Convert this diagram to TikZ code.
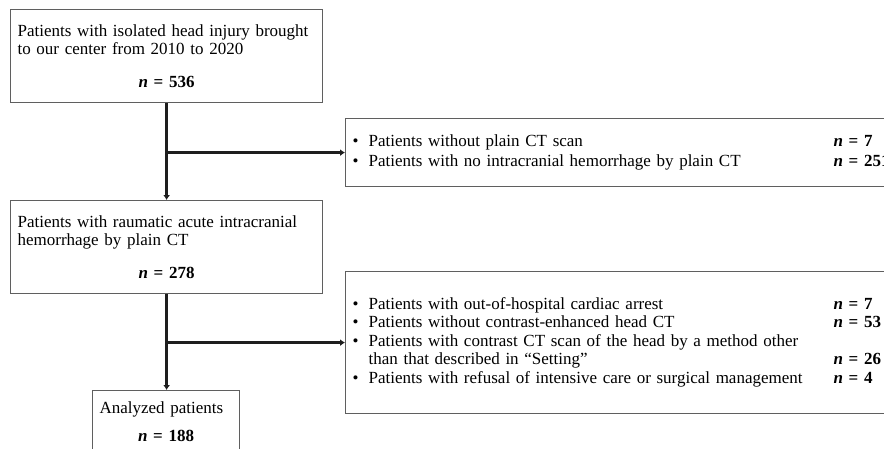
\documentclass[tikz,border=0pt]{standalone}
\usepackage{fontspec}
\setmainfont{Liberation Serif}
\usepackage{tikz}
\usetikzlibrary{arrows.meta}
\usetikzlibrary{calc}
\definecolor{boxgray}{RGB}{95,95,95}
\definecolor{linegray}{RGB}{30,30,30}
\newcommand{\nval}[1]{\textbf{\textit{n}~=~#1}}
\newcommand{\bul}{\makebox[16pt][l]{\textbullet}}

\begin{document}
\begin{tikzpicture}[
    x=1pt, y=-1pt,
    box/.style={draw=boxgray, line width=1.2pt, rectangle, anchor=north west,
        inner xsep=7pt, inner ysep=0pt, align=left,
        font=\fontsize{17}{18.5}\selectfont},
    flow line/.style={line width=3pt, draw=linegray},
    flow arrow/.style={flow line, -{Latex[length=5pt,width=7pt]}}
    ]

    % frame
    \useasboundingbox (0,0) rectangle (884,448);
    \clip (0,0) rectangle (884,448);
    % main boxes
    \node[box, text width=298pt, minimum height=93pt] (injury) at (10,9)
        {Patients with isolated head injury brought\\
         to our center from 2010 to 2020\\[14pt]
         \makebox[\linewidth]{\nval{536}}};
    \node[box, text width=298pt, minimum height=93pt] (hemorrhage) at (10,200)
        {Patients with raumatic acute intracranial\\
         hemorrhage by plain CT\\[14pt]
         \makebox[\linewidth]{\nval{278}}};
    \node[box, text width=133pt, minimum height=62pt] (analyzed) at (92,390)
        {Analyzed patients\\[10pt]
         \makebox[\linewidth]{\nval{188}}};
    % excluded boxes
    \node[box, text width=566pt, minimum height=68pt] (noct) at (345,118)
        {\begin{tabular}{@{}p{481pt}@{}l@{}}
         \bul Patients without plain CT scan & \nval{7}\\[1.5pt]
         \bul Patients with no intracranial hemorrhage by plain CT & \nval{251}
         \end{tabular}};
    \node[box, text width=566pt, minimum height=142pt] (excluded) at (345,271)
        {\begin{tabular}{@{}p{481pt}@{}l@{}}
         \bul Patients with out-of-hospital cardiac arrest & \nval{7}\\
         \bul Patients without contrast-enhanced head CT & \nval{53}\\
         \bul Patients with contrast CT scan of the head by a method other & \\
         \hspace*{16pt}than that described in ``Setting'' & \nval{26}\\
         \bul Patients with refusal of intensive care or surgical management & \nval{4}
         \end{tabular}};
    % split points
    \coordinate (split1) at (injury.south |- noct.west);
    \coordinate (split2) at (hemorrhage.south |- excluded.west);
    % arrows
    \draw[flow arrow] (injury.south) -- (hemorrhage.north);
    \draw[flow arrow] (split1) -- (noct.west);
    \draw[flow arrow] (hemorrhage.south) -- (analyzed.north -| hemorrhage.south);
    \draw[flow arrow] (split2) -- (excluded.west);
\end{tikzpicture}
\end{document}
